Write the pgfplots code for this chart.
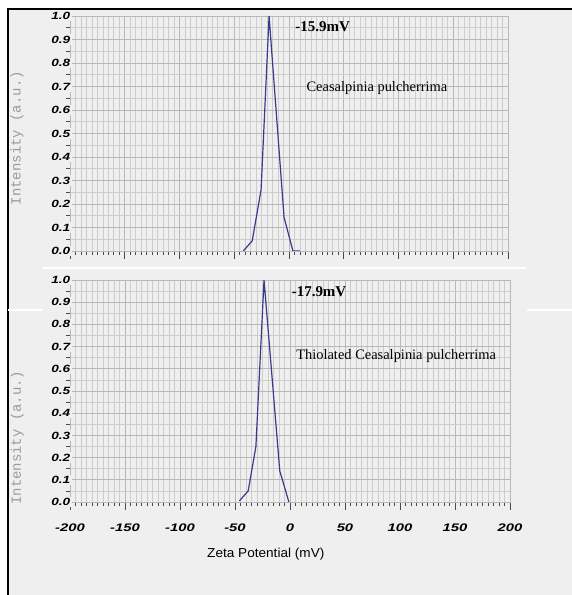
\documentclass[border=0pt]{standalone}
\usepackage{fontspec}
\setmainfont{Liberation Serif}
\setsansfont{Liberation Sans}
\setmonofont{Liberation Mono}
\usepackage{pgfplots}
\pgfplotsset{compat=1.18}
\definecolor{bggray}{HTML}{EFEFEF}
\definecolor{gridminor}{HTML}{CDCDCD}
\definecolor{gridmajor}{HTML}{B8B8B8}
\definecolor{curve}{HTML}{3A3A8C}
\definecolor{tickc}{HTML}{4A4A4A}
\definecolor{labgray}{HTML}{9A9A9A}
\pgfplotsset{zp/.style={
  scale only axis,
  xmin=-200, xmax=200, ymin=0, ymax=1,
  xtick={-200,-150,-100,-50,0,50,100,150,200},
  ytick={0,0.1,0.2,0.3,0.4,0.5,0.6,0.7,0.8,0.9,1.0},
  yticklabels={0.0,0.1,0.2,0.3,0.4,0.5,0.6,0.7,0.8,0.9,1.0},
  minor x tick num=9, minor y tick num=1,
  grid=both,
  major grid style={draw=gridmajor, line width=0.8bp},
  minor grid style={draw=gridminor, line width=0.7bp},
  axis line style={draw=gridmajor, line width=0.8bp},
  tick align=outside, xtick pos=bottom, ytick pos=left,
  major tick length=8bp, minor tick length=4bp,
  tick style={draw=tickc, line width=0.7bp},
  yticklabel style={font=\sffamily\bfseries\itshape\fontsize{10.5}{11}\selectfont, xscale=1.3, xshift=8bp, fill=bggray, inner sep=1.5bp},
  xticklabel style={font=\sffamily\bfseries\itshape\fontsize{11}{12}\selectfont, xscale=1.35, yshift=-10bp},
  ylabel={Intensity (a.u.)},
  ylabel style={font=\ttfamily\fontsize{14}{15}\selectfont, color=labgray, anchor=center},
  clip=true,
}}
\begin{document}
\begin{tikzpicture}
\path[use as bounding box] (0,0) rectangle (572bp,595bp);
\fill[white] (0,0) rectangle (572bp,595bp);
\fill[bggray] (8bp,0) rectangle (572bp,586bp);
\draw[black, line width=1.2bp] (8bp,0) -- (8bp,586bp) -- (572bp,586bp);
\draw[white, line width=2.5bp] (43bp,327bp) -- (526bp,327bp);
\draw[white, line width=2bp] (8bp,285bp) -- (43bp,285bp);
\draw[white, line width=2bp] (527bp,285bp) -- (572bp,285bp);

\begin{axis}[zp, at={(70bp,344bp)}, anchor=south west,
  width=438bp, height=235bp,
  xticklabels={},
  ylabel style={at={(axis description cs:-0.121,0.48)}}]
\addplot[curve, line width=1.2bp] coordinates {
  (-41.8,0) (-33.6,0.043) (-25.5,0.26) (-18.2,1.0) (-4.5,0.143) (3.6,0) (10,0)};
\node[anchor=west, font=\fontsize{15}{16}\selectfont\bfseries] at (axis cs:2.7,0.953) {-15.9mV};
\node[anchor=west, font=\fontsize{14.5}{16}\selectfont] at (axis cs:12.8,0.694) {Ceasalpinia pulcherrima};
\end{axis}

\begin{axis}[zp, at={(70bp,93bp)}, anchor=south west,
  width=440bp, height=222bp,
  xticklabels={-200,-150,-100,-50,0,50,100,150,200},
  ylabel style={at={(axis description cs:-0.12,0.29)}},
  xlabel={Zeta Potential (mV)},
  xlabel style={font=\sffamily\fontsize{13}{14}\selectfont, xscale=1.05, at={(axis description cs:0.445,-0.234)}, anchor=center}]
\addplot[curve, line width=1.2bp] coordinates {
  (-46,0.005) (-38,0.05) (-31,0.25) (-23.6,1.0) (-9.3,0.14) (-1,0)};
\node[anchor=west, font=\fontsize{15}{16}\selectfont\bfseries] at (axis cs:-1.5,0.946) {-17.9mV};
\node[anchor=west, font=\fontsize{14.5}{16}\selectfont] at (axis cs:2.5,0.658) {Thiolated Ceasalpinia pulcherrima};
\end{axis}
\end{tikzpicture}
\end{document}
